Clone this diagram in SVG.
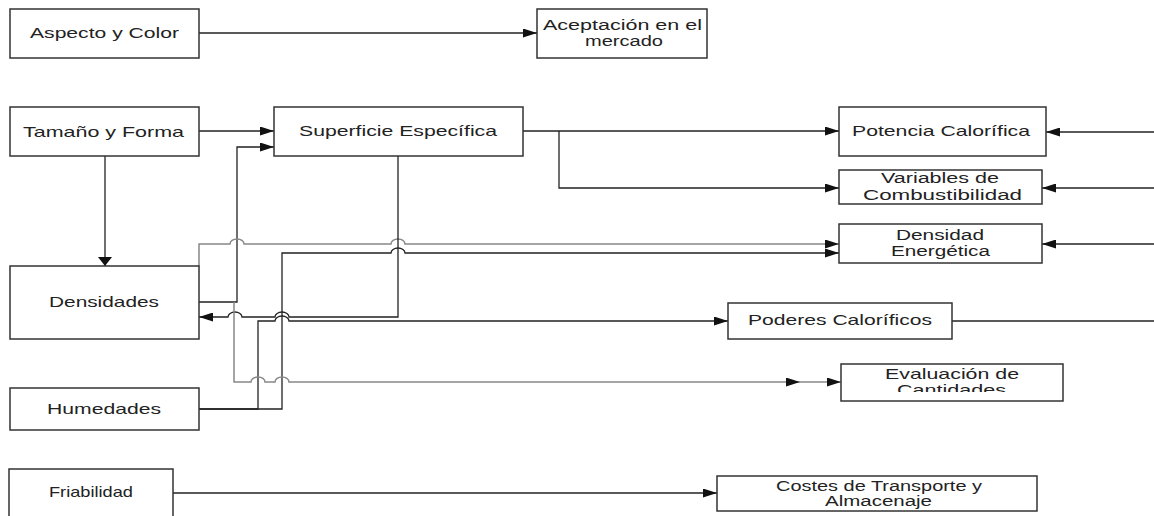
<svg xmlns="http://www.w3.org/2000/svg" width="1154" height="516" viewBox="0 0 1154 516">
<style>
.box{fill:#fff;stroke:#333;stroke-width:1.5}
.t{font-family:"Liberation Sans",Arial,sans-serif;font-size:15px;fill:#222}
.t2{font-family:"Liberation Sans",Arial,sans-serif;font-size:14px;fill:#222}
.k{fill:none;stroke:#222;stroke-width:1.3}
.g{fill:none;stroke:#888;stroke-width:1.5}
</style>
<defs>
<marker id="ah" markerUnits="userSpaceOnUse" markerWidth="14" markerHeight="9" refX="14" refY="4.5" orient="auto">
<path d="M0,0 L14,4.5 L0,9 Z" fill="#111"/>
</marker>
<marker id="av" markerUnits="userSpaceOnUse" markerWidth="9" markerHeight="14" refX="9" refY="7" orient="auto">
<path d="M0,0 L9,7 L0,14 Z" fill="#111"/>
</marker>
<clipPath id="clipCant"><rect x="840" y="360" width="230" height="32"/></clipPath>
</defs>

<g id="connectors">
<path class="k" d="M199,33 H537" marker-end="url(#ah)"/>
<path class="k" d="M199,131 H274" marker-end="url(#ah)"/>
<path class="k" d="M105,156 V266" marker-end="url(#av)"/>
<path class="k" d="M199,302 H237 V147 H274" marker-end="url(#ah)"/>
<path class="k" d="M523,131 H839" marker-end="url(#ah)"/>
<path class="k" d="M559,131 V188 H839" marker-end="url(#ah)"/>
<path class="k" d="M1154,132 H1046" marker-end="url(#ah)"/>
<path class="k" d="M1154,188 H1042" marker-end="url(#ah)"/>
<path class="k" d="M1154,244 H1042" marker-end="url(#ah)"/>
<path class="g" d="M199,266 V244 H230 A7,5 0 0 1 244,244 H391 A7,5 0 0 1 405,244 H839" marker-end="url(#ah)"/>
<path class="k" d="M199,409 H282 V253 H391 A7,5 0 0 1 405,253 H839" marker-end="url(#ah)"/>
<path class="k" d="M398,156 V317 H289 A7,5 0 0 0 275,317 H242 A7,5 0 0 0 228,317 H199" marker-end="url(#ah)"/>
<path class="k" d="M199,409 H258 V321 H275 A7,5 0 0 1 289,321 H728" marker-end="url(#ah)"/>
<path class="k" d="M952,321 H1154"/>
<path class="g" d="M234,302 V382 H251 A7,5 0 0 1 265,382 H275 A7,5 0 0 1 289,382 H800" marker-end="url(#ah)"/>
<path class="g" d="M800,382 H841" marker-end="url(#ah)"/>
<path class="k" d="M173,493 H717" marker-end="url(#ah)"/>
</g>

<g id="n-aspecto"><rect class="box" x="10" y="9" width="189" height="49"/><text class="t" x="30" y="38" textLength="149" lengthAdjust="spacingAndGlyphs">Aspecto y Color</text></g>
<g id="n-aceptacion"><rect class="box" x="537" y="9" width="170" height="49"/><text class="t2" x="543" y="30" textLength="159" lengthAdjust="spacingAndGlyphs">Aceptación en el</text><text class="t2" x="585" y="46" textLength="78" lengthAdjust="spacingAndGlyphs">mercado</text></g>
<g id="n-tamano"><rect class="box" x="10" y="107" width="189" height="49"/><text class="t" x="23" y="137" textLength="161" lengthAdjust="spacingAndGlyphs">Tamaño y Forma</text></g>
<g id="n-superficie"><rect class="box" x="274" y="107" width="249" height="49"/><text class="t" x="299" y="136" textLength="198" lengthAdjust="spacingAndGlyphs">Superficie Específica</text></g>
<g id="n-potencia"><rect class="box" x="839" y="107" width="207" height="49"/><text class="t" x="852" y="136" textLength="178" lengthAdjust="spacingAndGlyphs">Potencia Calorífica</text></g>
<g id="n-variables"><rect class="box" x="839" y="170" width="203" height="34"/><text class="t2" x="881" y="183" textLength="118" lengthAdjust="spacingAndGlyphs">Variables de</text><text class="t2" x="863" y="200" textLength="159" lengthAdjust="spacingAndGlyphs">Combustibilidad</text></g>
<g id="n-densidad-energetica"><rect class="box" x="839" y="224" width="203" height="39"/><text class="t2" x="896" y="240" textLength="88" lengthAdjust="spacingAndGlyphs">Densidad</text><text class="t2" x="891" y="256" textLength="99" lengthAdjust="spacingAndGlyphs">Energética</text></g>
<g id="n-densidades"><rect class="box" x="10" y="266" width="189" height="73"/><text class="t" x="49" y="307" textLength="110" lengthAdjust="spacingAndGlyphs">Densidades</text></g>
<g id="n-poderes"><rect class="box" x="728" y="303" width="224" height="36"/><text class="t" x="748" y="325" textLength="184" lengthAdjust="spacingAndGlyphs">Poderes Caloríficos</text></g>
<g id="n-evaluacion"><rect class="box" x="841" y="364" width="222" height="37"/><text class="t" x="885" y="379" textLength="134" lengthAdjust="spacingAndGlyphs">Evaluación de</text><text class="t" x="897" y="395" textLength="109" lengthAdjust="spacingAndGlyphs" clip-path="url(#clipCant)">Cantidades</text></g>
<g id="n-humedades"><rect class="box" x="10" y="388" width="189" height="42"/><text class="t" x="47" y="414" textLength="114" lengthAdjust="spacingAndGlyphs">Humedades</text></g>
<g id="n-friabilidad"><rect class="box" x="9" y="469" width="164" height="60"/><text class="t" x="49" y="497" textLength="84" lengthAdjust="spacingAndGlyphs">Friabilidad</text></g>
<g id="n-costes"><rect class="box" x="717" y="476" width="320" height="35"/><text class="t2" x="776" y="491" textLength="206" lengthAdjust="spacingAndGlyphs">Costes de Transporte y</text><text class="t2" x="825" y="506" textLength="107" lengthAdjust="spacingAndGlyphs">Almacenaje</text></g>
</svg>
